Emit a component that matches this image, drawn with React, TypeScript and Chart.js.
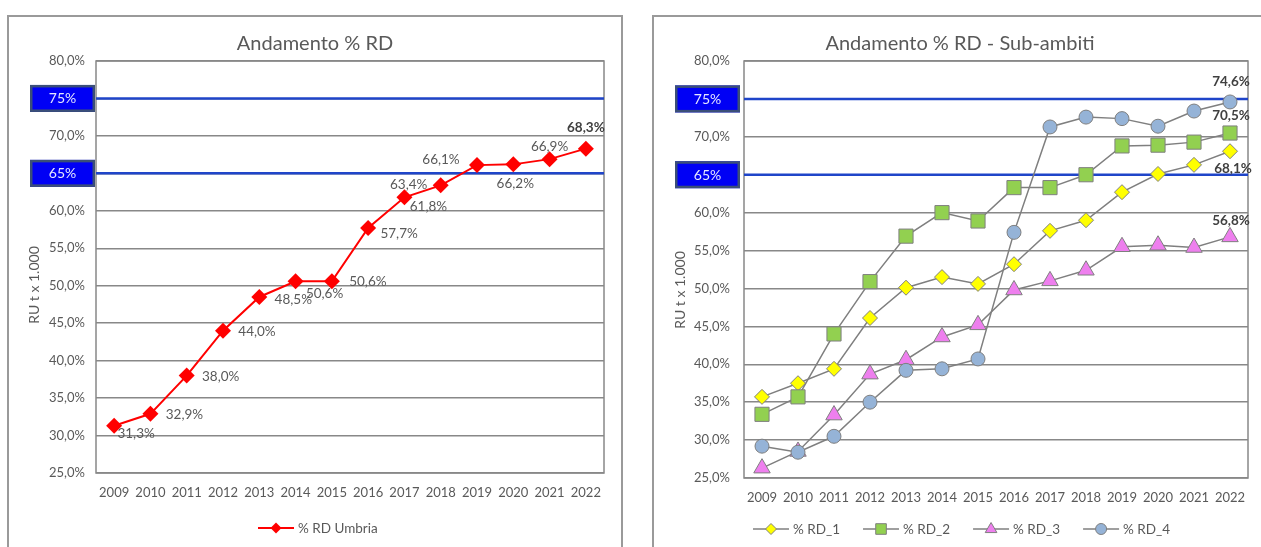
import React, { useEffect, useRef } from 'react';
import { Chart, registerables } from 'chart.js';

Chart.register(...registerables);

// ---------- data ----------
const YEARS = ['2009', '2010', '2011', '2012', '2013', '2014', '2015', '2016', '2017', '2018', '2019', '2020', '2021', '2022'];
const RD_UMBRIA = [31.3, 32.9, 38.0, 44.0, 48.5, 50.6, 50.6, 57.7, 61.8, 63.4, 66.1, 66.2, 66.9, 68.3];
const RD_1 = [35.7, 37.5, 39.4, 46.1, 50.1, 51.5, 50.6, 53.2, 57.6, 59.0, 62.7, 65.1, 66.3, 68.1];
const RD_2 = [33.4, 35.7, 44.0, 50.9, 56.9, 60.0, 58.9, 63.3, 63.3, 65.0, 68.8, 68.9, 69.3, 70.5];
const RD_3 = [26.3, 28.5, 33.3, 38.7, 40.6, 43.6, 45.2, 49.8, 51.0, 52.4, 55.5, 55.7, 55.4, 56.8];
const RD_4 = [29.2, 28.4, 30.5, 35.0, 39.2, 39.4, 40.7, 57.4, 71.3, 72.6, 72.4, 71.4, 73.4, 74.6];
const TARGETS = [75, 65];
const TARGET_LABELS = ['75%', '65%'];
const Y_MIN = 25;
const Y_MAX = 80;
const Y_STEP = 5;
const TITLE_LEFT = 'Andamento % RD';
const TITLE_RIGHT = 'Andamento % RD - Sub-ambiti';
const AXIS_TITLE = 'RU t x 1.000';
const LEGEND_LEFT = ['% RD Umbria'];
const LEGEND_RIGHT = ['% RD_1', '% RD_2', '% RD_3', '% RD_4'];

// ---------- style ----------
const FONT = 'Lato, "Open Sans", sans-serif';
const TEXT = '#595959';
const GRID = '#888888';
const BLUE_LINE = '#1f45c9';
const GRAY_LINE = '#7f7f7f';

// label placement (offset of label centre from point), per point
const LEFT_LABEL_OFFSETS = [
  [22, 8], [34, 1], [34, 1], [34, 1], [34, 3], [29, 12], [36, 0],
  [31, 6], [24, 9], [-32, -1], [-36, -5], [2, 19], [0, -12], [0, -21],
];

const fmt = (v: number) => v.toFixed(1).replace('.', ',') + '%';

function drawMarker(ctx: CanvasRenderingContext2D, style: string, x: number, y: number, r: number, fill: string, stroke: string, lw: number) {
  ctx.beginPath();
  if (style === 'rectRot') {
    ctx.moveTo(x, y - r); ctx.lineTo(x + r, y); ctx.lineTo(x, y + r); ctx.lineTo(x - r, y); ctx.closePath();
  } else if (style === 'rect') {
    const s = r * Math.SQRT1_2;
    ctx.rect(x - s, y - s, 2 * s, 2 * s);
  } else if (style === 'triangle') {
    const h = r;
    ctx.moveTo(x, y - h); ctx.lineTo(x + h * 0.9, y + h * 0.55); ctx.lineTo(x - h * 0.9, y + h * 0.55); ctx.closePath();
  } else {
    ctx.arc(x, y, r, 0, Math.PI * 2);
  }
  ctx.fillStyle = fill;
  ctx.fill();
  if (lw > 0) { ctx.strokeStyle = stroke; ctx.lineWidth = lw; ctx.stroke(); }
}

const overlayPlugin = {
  id: 'overlay',
  beforeDatasetsDraw(chart: any, _a: any, o: any) {
    const { ctx, chartArea: { left, right, top, bottom }, scales: { y } } = chart;
    ctx.save();
    ctx.strokeStyle = GRID; ctx.lineWidth = 1.5;
    ctx.strokeRect(left, top, right - left, bottom - top);
    ctx.strokeStyle = BLUE_LINE; ctx.lineWidth = 2.5;
    TARGETS.forEach((t) => {
      const yy = y.getPixelForValue(t);
      ctx.beginPath(); ctx.moveTo(left, yy); ctx.lineTo(right, yy); ctx.stroke();
    });
    ctx.restore();
  },
  afterDatasetsDraw(chart: any, _a: any, o: any) {
    const { ctx } = chart;
    ctx.save();
    ctx.textAlign = 'center'; ctx.textBaseline = 'middle';
    (o.labels || []).forEach((l: any) => {
      const el = chart.getDatasetMeta(l.ds).data[l.i];
      const v = chart.data.datasets[l.ds].data[l.i];
      ctx.font = (l.bold ? 'bold 13.5px ' : '13.5px ') + FONT;
      ctx.fillStyle = l.bold ? '#404040' : TEXT;
      ctx.fillText(fmt(v), el.x + l.dx, el.y + l.dy);
    });
    ctx.restore();
  },
  afterDraw(chart: any, _a: any, o: any) {
    const { ctx, scales: { y } } = chart;
    ctx.save();
    ctx.fillStyle = TEXT; ctx.textAlign = 'center'; ctx.textBaseline = 'middle';
    ctx.font = '20px ' + FONT;
    ctx.fillText(o.title, o.titleX, 27);
    ctx.save();
    ctx.translate(o.axisX, o.axisY); ctx.rotate(-Math.PI / 2);
    ctx.font = '14px ' + FONT;
    ctx.fillText(AXIS_TITLE, 0, 0);
    ctx.restore();
    TARGETS.forEach((t, i) => {
      const yy = y.getPixelForValue(t);
      const bx = o.boxX, bw = o.boxW, bh = 27;
      ctx.fillStyle = '#0000f5';
      ctx.fillRect(bx, yy - bh / 2, bw, bh);
      ctx.strokeStyle = '#3b4f78'; ctx.lineWidth = 2.5;
      ctx.strokeRect(bx + 1.25, yy - bh / 2 + 1.25, bw - 2.5, bh - 2.5);
      ctx.fillStyle = '#e4e6ff'; ctx.font = '14px ' + FONT;
      ctx.fillText(TARGET_LABELS[i], bx + bw / 2, yy + 0.5);
    });
    let x = o.legendX;
    const ly = o.legendY;
    ctx.font = '13.5px ' + FONT; ctx.textAlign = 'left';
    o.legend.forEach((it: any) => {
      ctx.strokeStyle = it.line; ctx.lineWidth = it.lw;
      ctx.beginPath(); ctx.moveTo(x, ly); ctx.lineTo(x + 36, ly); ctx.stroke();
      drawMarker(ctx, it.style, x + 18, ly, it.r, it.fill, it.stroke, it.mlw);
      ctx.fillStyle = TEXT;
      ctx.fillText(it.text, x + 40, ly + 0.5);
      x += 40 + ctx.measureText(it.text).width + o.legendGap;
    });
    ctx.restore();
  },
};

function makeScales(yWidth: number, yPad: number) {
  return {
    x: {
      type: 'category' as const,
      offset: true,
      grid: { display: false, drawTicks: false },
      border: { display: false },
      ticks: { color: TEXT, font: { family: FONT, size: 13 }, padding: 12, maxRotation: 0, autoSkip: false },
      afterFit: (s: any) => { s.height = 30; },
    },
    y: {
      min: Y_MIN,
      max: Y_MAX,
      grid: { color: GRID, lineWidth: 1.5, drawTicks: false },
      border: { display: false },
      ticks: { stepSize: Y_STEP, padding: yPad, color: TEXT, font: { family: FONT, size: 13 }, callback: (v: any) => fmt(Number(v)) },
      afterFit: (s: any) => { s.width = yWidth; },
    },
  };
}

function ChartCanvas({ config, width, height }: { config: any; width: number; height: number }) {
  const ref = useRef<HTMLCanvasElement | null>(null);
  useEffect(() => {
    if (!ref.current) return;
    const c = new Chart(ref.current, config);
    return () => c.destroy();
  }, []);
  return <canvas ref={ref} width={width} height={height} style={{ display: 'block', width, height }} />;
}

const leftConfig = {
  type: 'line',
  data: {
    labels: YEARS,
    datasets: [{
      label: LEGEND_LEFT[0],
      data: RD_UMBRIA,
      borderColor: '#ff0000',
      backgroundColor: '#ff0000',
      borderWidth: 2,
      pointStyle: 'rectRot',
      pointRadius: 8,
      pointBorderWidth: 0,
      pointBackgroundColor: '#ff0000',
      tension: 0,
    }],
  },
  options: {
    responsive: false,
    animation: false,
    layout: { padding: { left: 27, right: 17, top: 44, bottom: 44 } },
    scales: makeScales(60, 11),
    plugins: {
      legend: { display: false },
      tooltip: { enabled: false },
      overlay: {
        title: TITLE_LEFT, titleX: 306, axisX: 25, axisY: 268, boxX: 21, boxW: 65,
        legendX: 249, legendY: 511, legendGap: 28,
        legend: [{ text: LEGEND_LEFT[0], line: '#ff0000', lw: 2, style: 'rectRot', r: 5.5, fill: '#ff0000', stroke: '#ff0000', mlw: 0 }],
        labels: RD_UMBRIA.map((_, i) => ({ ds: 0, i, dx: LEFT_LABEL_OFFSETS[i][0], dy: LEFT_LABEL_OFFSETS[i][1], bold: i === RD_UMBRIA.length - 1 })),
      },
    },
  },
  plugins: [overlayPlugin],
};

const mk = (label: string, data: number[], style: string, r: number, fill: string, order: number) => ({
  label, data, order,
  borderColor: GRAY_LINE, borderWidth: 1.5,
  pointStyle: style, pointRadius: r, pointBackgroundColor: fill, pointBorderColor: GRAY_LINE, pointBorderWidth: 1,
  tension: 0,
});

const last = YEARS.length - 1;
const rightConfig = {
  type: 'line',
  data: {
    labels: YEARS,
    datasets: [
      mk(LEGEND_RIGHT[0], RD_1, 'rectRot', 7.5, '#ffff00', 3),
      mk(LEGEND_RIGHT[1], RD_2, 'rect', 10, '#92d050', 2),
      mk(LEGEND_RIGHT[2], RD_3, 'triangle', 9.5, '#ee7fee', 1),
      mk(LEGEND_RIGHT[3], RD_4, 'circle', 7, '#95b3d7', 0),
    ],
  },
  options: {
    responsive: false,
    animation: false,
    layout: { padding: { left: 30, right: 20, top: 44, bottom: 39 } },
    scales: makeScales(60, 14),
    plugins: {
      legend: { display: false },
      tooltip: { enabled: false },
      overlay: {
        title: TITLE_RIGHT, titleX: 306, axisX: 26, axisY: 273, boxX: 21, boxW: 65,
        legendX: 99, legendY: 512, legendGap: 23,
        legend: [
          { text: LEGEND_RIGHT[0], line: GRAY_LINE, lw: 1.5, style: 'rectRot', r: 5.5, fill: '#ffff00', stroke: GRAY_LINE, mlw: 1 },
          { text: LEGEND_RIGHT[1], line: GRAY_LINE, lw: 1.5, style: 'rect', r: 7.5, fill: '#92d050', stroke: GRAY_LINE, mlw: 1 },
          { text: LEGEND_RIGHT[2], line: GRAY_LINE, lw: 1.5, style: 'triangle', r: 6.5, fill: '#ee7fee', stroke: GRAY_LINE, mlw: 1 },
          { text: LEGEND_RIGHT[3], line: GRAY_LINE, lw: 1.5, style: 'circle', r: 5.5, fill: '#95b3d7', stroke: GRAY_LINE, mlw: 1 },
        ],
        labels: [
          { ds: 3, i: last, dx: 1, dy: -20, bold: true },
          { ds: 1, i: last, dx: 1, dy: -17, bold: true },
          { ds: 0, i: last, dx: 3, dy: 17, bold: true },
          { ds: 2, i: last, dx: 1, dy: -16, bold: true },
        ],
      },
    },
  },
  plugins: [overlayPlugin],
};

export default function App() {
  const box: React.CSSProperties = {
    position: 'absolute', top: 15, height: 580, border: '2px solid #9a9a9a', background: '#fff', boxSizing: 'content-box',
  };
  return (
    <div style={{ position: 'fixed', left: 0, top: 0, width: 1261, height: 547, overflow: 'hidden', background: '#fff' }}>
      <div style={{ ...box, left: 7, width: 612 }}>
        <ChartCanvas config={leftConfig} width={612} height={530} />
      </div>
      <div style={{ ...box, left: 652, width: 614 }}>
        <ChartCanvas config={rightConfig} width={614} height={530} />
      </div>
    </div>
  );
}
